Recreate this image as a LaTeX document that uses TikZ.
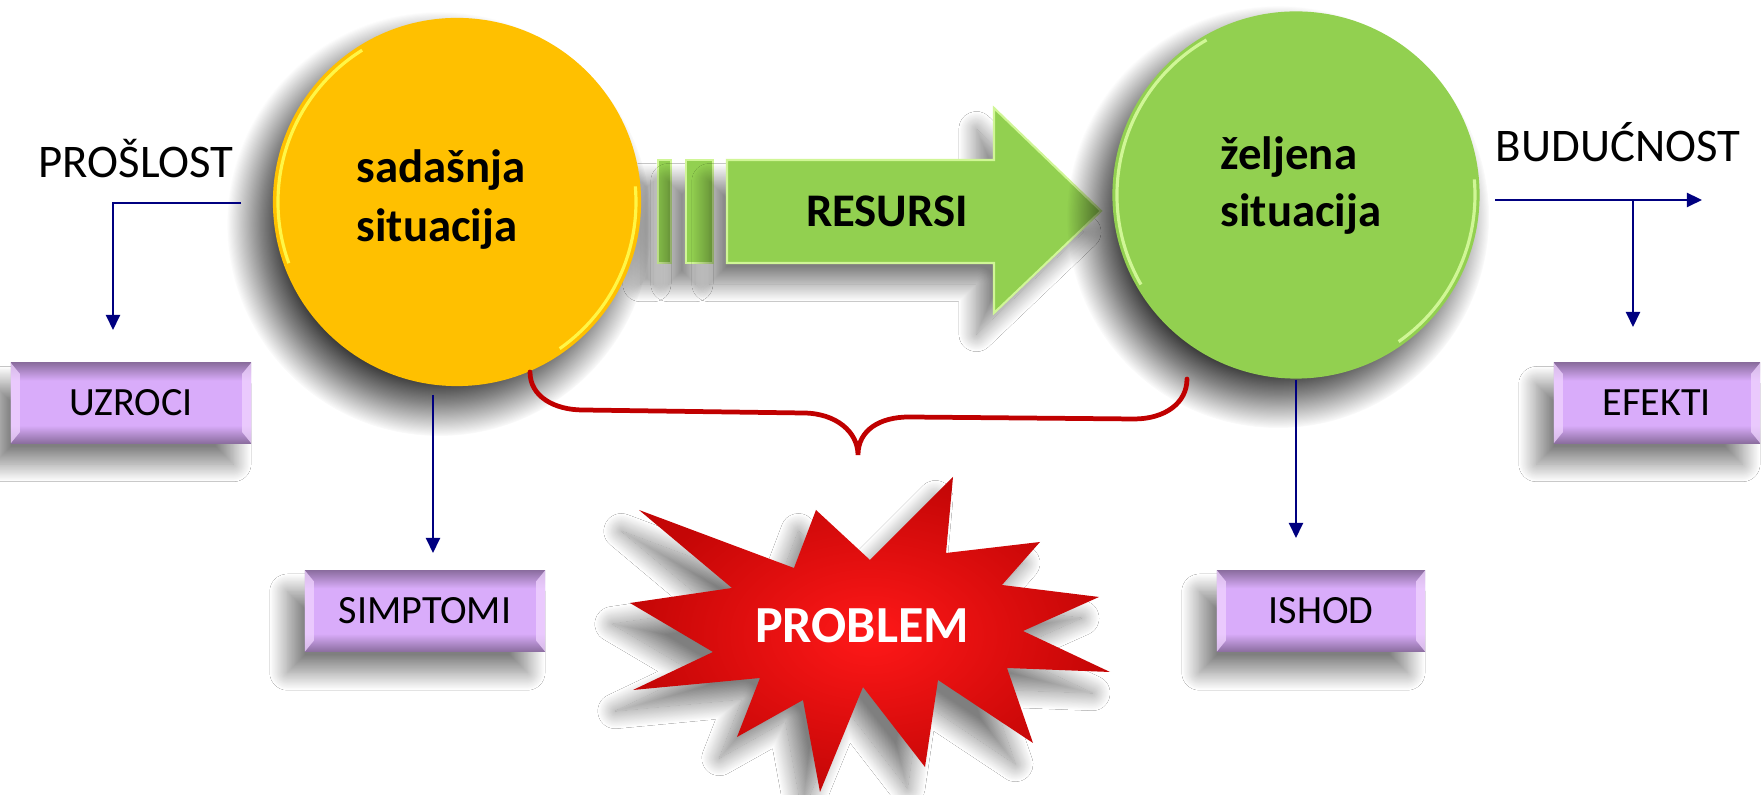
\documentclass[tikz,border=0pt]{standalone}
\usepackage{fontspec}
\setmainfont{Carlito}
\usetikzlibrary{arrows.meta,calc,shadows.blur,fadings}
\definecolor{navyc}{RGB}{0,0,128}
\definecolor{bracered}{RGB}{192,0,0}
\definecolor{gold}{RGB}{255,192,0}
\definecolor{goldrim}{RGB}{255,246,70}
\definecolor{lgreen}{RGB}{146,208,80}
\definecolor{greenrim}{RGB}{208,246,150}
\definecolor{boxmid}{RGB}{217,172,250}
\definecolor{boxedge}{RGB}{140,110,160}
\definecolor{bevpink}{RGB}{240,212,255}
\definecolor{starin}{RGB}{255,24,24}
\definecolor{starout}{RGB}{196,6,6}
\pgfdeclareverticalshading{boxshade}{100bp}{color(0bp)=(boxedge); color(25bp)=(boxedge); color(36bp)=(boxmid); color(64bp)=(boxmid); color(75bp)=(boxedge); color(100bp)=(boxedge)}
\pgfdeclareradialshading{softcircshade}{\pgfpointorigin}{color(0bp)=(pgftransparent!0); color(18bp)=(pgftransparent!0); color(21bp)=(pgftransparent!40); color(25bp)=(pgftransparent!100); color(50bp)=(pgftransparent!100)}
\pgfdeclarefading{softcirc}{\pgfuseshading{softcircshade}}
\newcommand\bevsides[1]{%
  \fill[bevpink, opacity=0.75] (#1.north west) -- ($(#1.north west)+(9,11)$) -- ($(#1.south west)+(9,-11)$) -- (#1.south west) -- cycle;
  \fill[bevpink, opacity=0.75] (#1.north east) -- ($(#1.north east)+(-9,11)$) -- ($(#1.south east)+(-9,-11)$) -- (#1.south east) -- cycle;}
\tikzset{
  softshadow/.style={blur shadow={shadow xshift=-5pt, shadow yshift=-6pt, shadow blur radius=5pt, shadow blur steps=30, shadow opacity=50}},
  circshadow/.style={black, opacity=0.8, path fading=softcirc},
  lbl/.style={font=\fontsize{13.3}{16}\selectfont, inner sep=0pt},
  bigb/.style={font=\bfseries\fontsize{13.3}{16}\selectfont, inner sep=0pt},
  boxnode/.style={rectangle, shading=boxshade, minimum height=0.80cm, inner sep=0pt, outer sep=0pt,
    font=\fontsize{11.4}{14}\selectfont, softshadow},
  conn/.style={navyc, line width=0.6pt, -{Triangle[length=0.15cm,width=0.14cm]}},
  rimY/.style={goldrim, line width=0.9pt},
  rimG/.style={greenrim, line width=0.9pt},
  bar/.style={fill=lgreen, draw=greenrim, line width=0.5pt, softshadow},
}
\begin{document}
\begin{tikzpicture}[x=0.01cm, y=-0.01cm]
\useasboundingbox (0,0) rectangle (1762,795);
\fill[white] (0,0) rectangle (1762,795);

% boxes
\node[boxnode, minimum width=2.40cm] (uz) at (131,403) {UZROCI};
\bevsides{uz}
\node[boxnode, minimum width=2.40cm, minimum height=0.81cm] (si) at (425,611) {SIMPTOMI};
\bevsides{si}
\node[boxnode, minimum width=2.08cm, minimum height=0.81cm] (is) at (1321,611) {ISHOD};
\bevsides{is}
\node[boxnode, minimum width=2.06cm] (ef) at (1657,403) {EFEKTI};
\bevsides{ef}

% resources arrow
\path[bar] (658,160) rectangle (671,263);
\path[bar] (686,160) rectangle (713,263);
\path[fill=lgreen, draw=greenrim, line width=0.6pt, softshadow]
  (727,160) -- (994,160) -- (994,108) -- (1101,211) -- (994,313) -- (994,263) -- (727,263) -- cycle;
\node[bigb, anchor=base] (res) at (887,227) {RESURSI};

% circle shadows
\fill[circshadow] (439,224) circle (212);
\fill[circshadow] (1278,217) circle (211);

% circles
\node[circle, fill=gold, minimum size=3.68cm, inner sep=0pt, outer sep=0pt] (ys) at (457,202) {};
\draw[rimY] (ys.center) ++(160:179) arc[start angle=160, end angle=238, radius=179];
\draw[rimY] (ys.center) ++(-5:179) arc[start angle=-5, end angle=55, radius=179];
\node[circle, fill=lgreen, minimum size=3.67cm, inner sep=0pt, outer sep=0pt] (gs) at (1296,195) {};
\draw[rimG] (gs.center) ++(150:179) arc[start angle=150, end angle=240, radius=179];
\draw[rimG] (gs.center) ++(-5:179) arc[start angle=-5, end angle=55, radius=179];

% circle texts
\node[bigb, anchor=base west] (t1) at (356,183) {sadašnja};
\node[bigb, anchor=base west] (t2) at (356,242) {situacija};
\node[bigb, anchor=base west] (t3) at (1220,170) {željena};
\node[bigb, anchor=base west] (t4) at (1220,227) {situacija};

% labels
\node[lbl, anchor=base] (past) at (136,178) {PROŠLOST};
\node[lbl, anchor=base] (fut) at (1618,162) {BUDUĆNOST};

% connectors
\coordinate (a1) at (241,203);
\coordinate (a2) at (113,203);
\coordinate (a3) at (113,330);
\draw[conn] (a1) -- (a2) -- (a3);
\coordinate (s1) at (433,395);
\coordinate (s2) at (433,553);
\draw[conn] (s1) -- (s2);
\coordinate (i1) at (1296,380);
\coordinate (i2) at (1296,538);
\draw[conn] (i1) -- (i2);
\coordinate (f1) at (1495,200);
\coordinate (f2) at (1702,200);
\coordinate (f3) at (1633,200);
\coordinate (f4) at (1633,327);
\draw[conn] (f1) -- (f2);
\draw[conn] (f3) -- (f4);

% brace
\coordinate (b1) at (530,372);
\coordinate (b4) at (858,455);
\coordinate (b7) at (1187,379);
\draw[bracered, line width=1.35pt, line cap=round]
  (b1) .. controls (530,397) and (555,410) .. (583,410) -- (803,413)
  .. controls (836,413) and (858,432) .. (b4)
  .. controls (858,430) and (880,417) .. (909,417) -- (1134,419)
  .. controls (1165,419) and (1187,403) .. (b7);

% star
\path[shading=radial, inner color=starin, outer color=starout, softshadow]
  (639,510) -- (794,568) -- (816,510) -- (870,560) -- (953,477) -- (946,553)
  -- (1040,542) -- (1002,585) -- (1099,597) -- (1023,631) -- (1110,672)
  -- (1007,668) -- (1033,743) -- (938,680) -- (925,767) -- (863,687)
  -- (820,792) -- (803,700) -- (737,737) -- (760,678) -- (633,690)
  -- (713,652) -- (630,603) -- (732,588) -- cycle;
\node[font=\bfseries\fontsize{14.8}{18}\selectfont, text=white, inner sep=0pt, anchor=base] (prob) at (862,643) {PROBLEM};
\end{tikzpicture}
\end{document}
